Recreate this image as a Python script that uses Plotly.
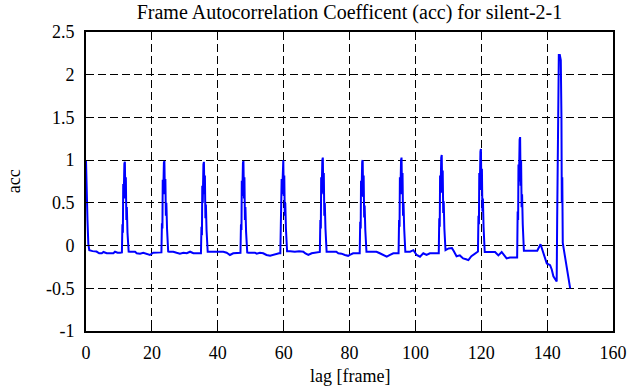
import plotly.graph_objects as go

# ---- data ----
lag = [
    0, 0.2, 0.45, 0.7, 1.0, 2.0, 3.2, 4.0, 4.8, 5.3, 6.3, 7.3, 8.3, 8.8, 9.6, 10.3,
    10.9, 11.05, 11.2, 11.3, 11.45, 11.65, 11.8, 11.95, 12.1, 12.25, 12.4, 12.6, 12.8, 12.95,
    13.4, 14.9, 15.4, 16.4, 17.4, 18.4, 19.4, 20.4, 21.4, 22.5,
    22.9, 23.05, 23.2, 23.3, 23.45, 23.65, 23.8, 23.95, 24.1, 24.25, 24.4, 24.6, 24.8, 24.95,
    25.2, 26.5, 27.5, 28.5, 29.6, 30.6, 31.6, 32.6, 33.6, 34.5,
    34.9, 35.05, 35.2, 35.3, 35.45, 35.65, 35.8, 35.95, 36.1, 36.25, 36.4, 36.6, 36.8, 36.95,
    37.3, 38.5, 39.6, 40.7, 41.7, 42.7, 43.7, 44.7, 45.7, 46.5,
    46.9, 47.05, 47.2, 47.3, 47.45, 47.65, 47.8, 47.95, 48.1, 48.25, 48.4, 48.6, 48.8, 48.95,
    49.3, 50.2, 51.3, 51.8, 52.8, 53.8, 54.8, 55.9, 56.9, 58.0, 58.6,
    59.0, 59.15, 59.3, 59.4, 59.55, 59.75, 59.9, 60.05, 60.2, 60.35, 60.5, 60.7, 60.9, 61.05,
    62.0, 63.4, 64.7, 66.0, 66.5, 67.5, 68.5, 69.5, 70.5,
    71.0, 71.15, 71.3, 71.4, 71.55, 71.75, 71.9, 72.05, 72.2, 72.35, 72.5, 72.7, 72.9, 73.05,
    73.5, 74.6, 76.0, 76.6, 77.6, 78.6, 79.6, 80.1, 81.1, 82.4,
    83.1, 83.25, 83.4, 83.5, 83.65, 83.85, 84.0, 84.15, 84.3, 84.45, 84.6, 84.8, 85.0, 85.15,
    85.6, 86.7, 88.2, 89.2, 90.2, 91.3, 92.3, 93.3, 94.4,
    94.9, 95.05, 95.2, 95.3, 95.45, 95.65, 95.8, 95.95, 96.1, 96.25, 96.4, 96.6, 96.8, 96.95,
    97.3, 98.4, 99.4, 100.4, 101.4, 102.4, 103.4, 104.4, 105.4, 106.5,
    107.1, 107.25, 107.4, 107.5, 107.65, 107.85, 108.0, 108.15, 108.3, 108.45, 108.6, 108.8, 109.0, 109.15,
    110.1, 111.1, 111.6, 112.5, 113.5, 114.5, 115.4, 116.1, 117.0, 118.1,
    119.0, 119.15, 119.3, 119.4, 119.55, 119.75, 119.9, 120.05, 120.2, 120.35, 120.5, 120.7, 120.9, 121.05,
    122.7, 124.2, 125.2, 126.2, 127.7, 128.7, 130.0,
    130.9, 131.05, 131.2, 131.3, 131.45, 131.65, 131.8, 131.95, 132.1, 132.25, 132.4, 132.6, 132.8, 132.95,
    134.5, 135.8, 137.0, 138.0, 138.4, 139.4, 139.9, 140.9, 141.4, 141.9, 142.6, 142.9,
    143.05, 143.2, 143.35, 143.55, 143.85, 144.0, 144.15, 144.35, 144.45, 144.6, 144.75,
    145.1, 145.6, 146.2, 146.6, 147.0,
]
acc = [
    1.0, 0.79, 0.3, 0.02, -0.055, -0.065, -0.07, -0.09, -0.09, -0.075, -0.09, -0.09, -0.09, -0.072, -0.084, -0.084,
    -0.08, 0.25, 0.15, 0.72, 0.55, 0.96, 0.98, 0.55, 0.8, 0.3, 0.45, 0.15, -0.04, -0.07,
    -0.072, -0.072, -0.09, -0.095, -0.084, -0.095, -0.11, -0.084, -0.084, -0.084,
    -0.08, 0.26, 0.2, 0.77, 0.6, 0.97, 0.99, 0.6, 0.78, 0.35, 0.5, 0.2, -0.03, -0.07,
    -0.072, -0.072, -0.084, -0.095, -0.084, -0.09, -0.072, -0.09, -0.09, -0.09,
    -0.09, 0.22, 0.12, 0.7, 0.5, 0.95, 0.98, 0.6, 0.82, 0.32, 0.48, 0.18, -0.04, -0.072,
    -0.072, -0.072, -0.075, -0.072, -0.072, -0.084, -0.11, -0.09, -0.084, -0.084,
    -0.084, 0.25, 0.18, 0.76, 0.58, 0.97, 0.99, 0.55, 0.8, 0.3, 0.45, 0.16, -0.03, -0.08,
    -0.084, -0.084, -0.084, -0.095, -0.084, -0.09, -0.11, -0.12, -0.11, -0.09, -0.09,
    -0.09, 0.3, 0.2, 0.78, 0.6, 0.98, 1.0, 0.58, 0.82, 0.35, 0.5, 0.2, -0.03, -0.066,
    -0.066, -0.072, -0.066, -0.072, -0.09, -0.11, -0.09, -0.084, -0.075,
    -0.075, 0.3, 0.2, 0.8, 0.62, 1.0, 1.03, 0.6, 0.85, 0.35, 0.5, 0.2, -0.03, -0.072,
    -0.072, -0.072, -0.072, -0.09, -0.095, -0.11, -0.12, -0.11, -0.09, -0.09,
    -0.09, 0.28, 0.2, 0.76, 0.58, 0.98, 1.0, 0.57, 0.82, 0.33, 0.47, 0.18, -0.03, -0.072,
    -0.072, -0.072, -0.072, -0.09, -0.11, -0.13, -0.11, -0.09, -0.09,
    -0.09, 0.3, 0.22, 0.8, 0.6, 1.0, 1.03, 0.6, 0.85, 0.35, 0.5, 0.2, -0.03, -0.072,
    -0.072, -0.072, -0.054, -0.11, -0.13, -0.09, -0.11, -0.09, -0.09, -0.09,
    -0.09, 0.32, 0.22, 0.82, 0.62, 1.03, 1.06, 0.62, 0.88, 0.38, 0.52, 0.2, -0.02, -0.054,
    -0.034, -0.03, -0.06, -0.125, -0.115, -0.15, -0.16, -0.17, -0.125, -0.09,
    -0.07, 0.35, 0.25, 0.85, 0.65, 1.1, 1.13, 0.65, 0.9, 0.4, 0.55, 0.22, -0.02, -0.075,
    -0.075, -0.075, -0.115, -0.075, -0.15, -0.14, -0.14,
    -0.14, 0.4, 0.3, 0.95, 0.75, 1.24, 1.27, 0.7, 1.0, 0.45, 0.6, 0.25, -0.02, -0.06,
    -0.06, -0.06, -0.06, 0.015, -0.035, -0.15, -0.21, -0.23, -0.28, -0.36, -0.4, -0.42,
    0.3, 1.0, 1.9, 2.23, 2.23, 2.17, 2.17, 1.5, 0.5, 0.8, 0.03,
    -0.05, -0.13, -0.29, -0.4, -0.5,
]

x_ticks = [0, 20, 40, 60, 80, 100, 120, 140, 160]
y_ticks = [-1, -0.5, 0, 0.5, 1, 1.5, 2, 2.5]
y_tick_labels = ["-1", "-0.5", "0", "0.5", "1", "1.5", "2", "2.5"]

title_text = "Frame Autocorrelation Coefficent (acc) for silent-2-1"
x_title = "lag [frame]"
y_title = "acc"

FONT = "Liberation Serif"

fig = go.Figure()
fig.add_trace(go.Scatter(
    x=lag, y=acc, mode="lines",
    line=dict(color="#0000ff", width=2),
    showlegend=False, hoverinfo="skip",
))

axis_common = dict(
    showline=True, linecolor="black", linewidth=2, mirror="ticks",
    ticks="inside", ticklen=5, tickwidth=1, tickcolor="black",
    showgrid=True, gridcolor="black", gridwidth=1, griddash="8px,4px",
    zeroline=False, automargin=False,
    tickfont=dict(family=FONT, size=18, color="black"),
)

fig.update_layout(
    width=629, height=387,
    paper_bgcolor="white", plot_bgcolor="white",
    margin=dict(l=86, r=16, t=32, b=56),
    font=dict(family=FONT, color="black", size=18),
    hovermode=False,
    title=dict(text=title_text, x=0.5, xanchor="center", xref="paper",
               y=0.97, yanchor="middle", yref="container",
               font=dict(family=FONT, size=20, color="black")),
    xaxis=dict(range=[0, 160], tickvals=x_ticks, ticktext=[str(v) for v in x_ticks],
               ticklabelstandoff=4, **axis_common),
    yaxis=dict(range=[-1, 2.5], tickvals=y_ticks, ticktext=y_tick_labels,
               ticklabelstandoff=6, **axis_common),
    annotations=[
        dict(text=x_title, xref="paper", yref="paper", x=0.5, y=-0.15,
             xanchor="center", yanchor="middle", showarrow=False,
             font=dict(family=FONT, size=18, color="black")),
        dict(text=y_title, xref="paper", yref="paper", x=-0.137, y=0.5,
             xanchor="center", yanchor="middle", showarrow=False, textangle=-90,
             font=dict(family=FONT, size=18, color="black")),
    ],
)

fig.write_html(
    "out.html",
    config={"displayModeBar": False, "staticPlot": True},
    post_script="document.body.style.margin='0';document.body.style.overflow='hidden';",
)
